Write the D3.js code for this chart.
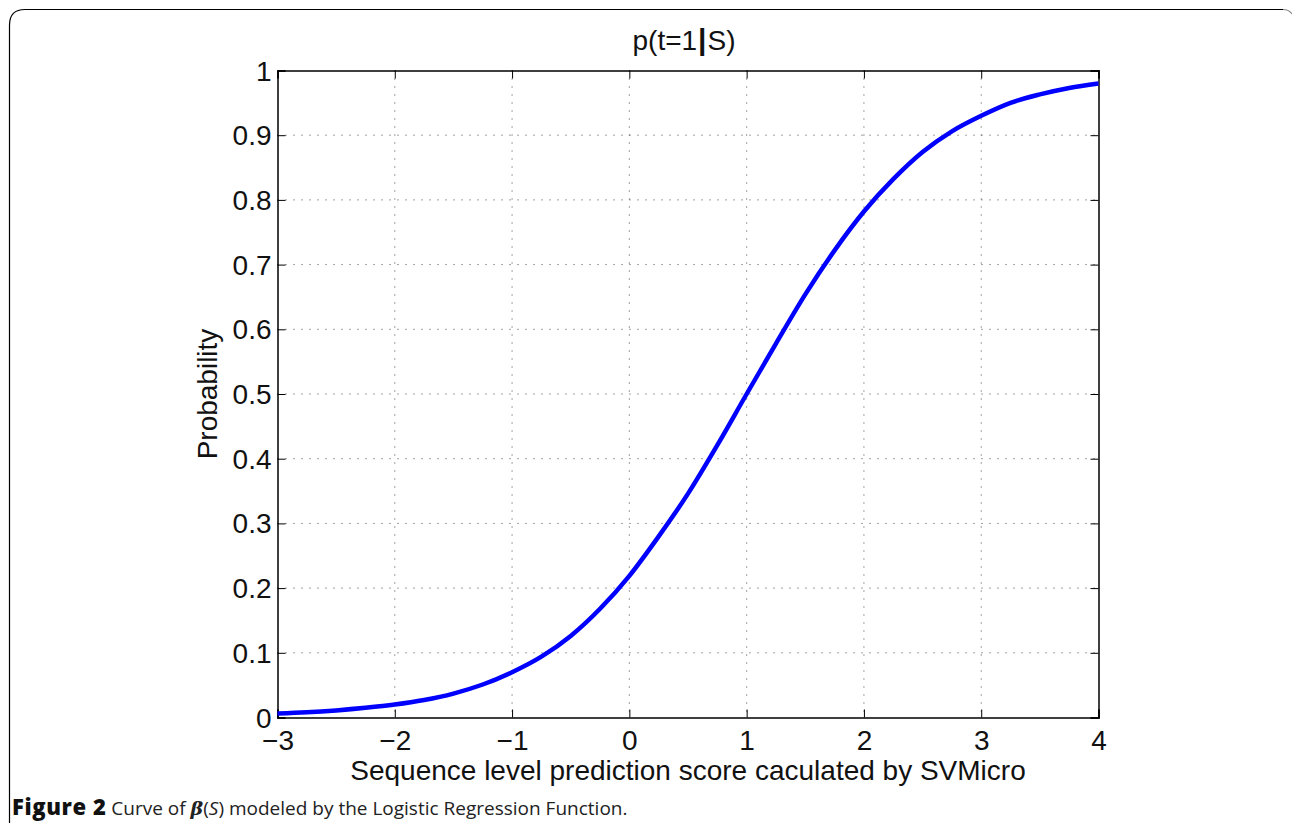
<!DOCTYPE html>
<html><head><meta charset="utf-8">
<script src="https://cdn.jsdelivr.net/npm/d3@7"></script>
<style>
html,body{margin:0;padding:0;background:#fff;}
svg{display:block;}
</style></head>
<body>
<svg id="chart" width="1292" height="824"></svg>
<script>
// Data
const scores = [-3,-2.75,-2.5,-2.25,-2,-1.75,-1.5,-1.25,-1,-0.75,-0.5,-0.25,0,0.25,0.5,0.75,1,1.25,1.5,1.75,2,2.25,2.5,2.75,3,3.25,3.5,3.75,4];
const probs  = [0.006,0.008,0.011,0.015,0.020,0.027,0.037,0.051,0.070,0.094,0.126,0.168,0.219,0.280,0.346,0.421,0.500,0.578,0.654,0.722,0.782,0.832,0.874,0.906,0.930,0.950,0.963,0.973,0.980];
const xTicks = [-3,-2,-1,0,1,2,3,4];
const yTicks = [0,0.1,0.2,0.3,0.4,0.5,0.6,0.7,0.8,0.9,1];
const titleParts = ["p(t=1", "|", "S)"];
const xLabel = "Sequence level prediction score caculated by SVMicro";
const yLabel = "Probability";

const svg = d3.select("#chart");
const L = 277.5, R = 1098.5, T = 70.5, B = 717.5;
const x = d3.scaleLinear().domain([-3,4]).range([L,R]);
const y = d3.scaleLinear().domain([0,1]).range([B,T]);
const font = "'Liberation Sans', Arial, Helvetica, sans-serif";
const fs = 28;

// outer frame (rounded top-left corner, open at bottom)
svg.append("path")
  .attr("d", `M9.5,823 L9.5,25 Q9.5,9.5 25,9.5 L1283,9.5`)
  .attr("fill","none").attr("stroke","#000").attr("stroke-width",1.2);
svg.append("path")
  .attr("d", `M1283,9.5 Q1289,9.5 1292,14`)
  .attr("fill","none").attr("stroke","#888").attr("stroke-width",1.2);

const g = svg.append("g");
g.append("rect").attr("x",L).attr("y",T).attr("width",R-L).attr("height",B-T).attr("fill","#fff");

// grid
g.selectAll(".gx").data(xTicks.slice(1,-1)).enter().append("line")
  .attr("x1",d=>x(d)).attr("x2",d=>x(d)).attr("y1",T).attr("y2",B)
  .attr("stroke","#444").attr("stroke-width",1).attr("stroke-dasharray","1,7");
g.selectAll(".gy").data(yTicks.slice(1,-1)).enter().append("line")
  .attr("y1",d=>y(d)).attr("y2",d=>y(d)).attr("x1",L).attr("x2",R)
  .attr("stroke","#444").attr("stroke-width",1).attr("stroke-dasharray","1,7");

// axes with inward ticks
const tl = 8;
const fmtX = d => d < 0 ? "\u2212" + Math.abs(d) : String(d);
const xAxis = d3.axisBottom(x).tickValues(xTicks).tickSize(-tl).tickFormat(fmtX);
const xAxisTop = d3.axisTop(x).tickValues(xTicks).tickSize(-tl).tickFormat("");
const yAxis = d3.axisLeft(y).tickValues(yTicks).tickSize(-tl).tickFormat(d=>String(+d.toFixed(1)));
const yAxisRight = d3.axisRight(y).tickValues(yTicks).tickSize(-tl).tickFormat("");

function style(sel){
  sel.select(".domain").attr("stroke","#000").attr("stroke-width",1.5);
  sel.selectAll(".tick line").attr("stroke","#000").attr("stroke-width",1);
  sel.selectAll("text").attr("font-family",font).attr("font-size",fs).attr("fill","#111");
}
g.append("g").attr("transform",`translate(0,${B})`).call(xAxis).call(style)
  .selectAll("text").attr("dy",null).attr("y",32);
g.append("g").attr("transform",`translate(0,${T})`).call(xAxisTop).call(style);
g.append("g").attr("transform",`translate(${L},0)`).call(yAxis).call(style)
  .selectAll("text").attr("x",-6).attr("dy","0.34em");
g.append("g").attr("transform",`translate(${R},0)`).call(yAxisRight).call(style);

// curve
const line = d3.line().x((d,i)=>x(scores[i])).y(d=>y(d)).curve(d3.curveMonotoneX);
g.append("path").datum(probs).attr("d",line)
  .attr("fill","none").attr("stroke","#0000ff").attr("stroke-width",4.5).attr("stroke-linejoin","round");

// title and labels
const title = svg.append("text").attr("x",684).attr("y",50).attr("text-anchor","middle")
  .attr("font-family",font).attr("font-size",fs).attr("fill","#111");
title.append("tspan").text(titleParts[0]);
title.append("tspan").attr("font-weight","bold").attr("font-size",fs+2).attr("dx",1).text(titleParts[1]);
title.append("tspan").attr("dx",1).text(titleParts[2]);
svg.append("text").attr("x",688).attr("y",780).attr("text-anchor","middle")
  .attr("font-family",font).attr("font-size",fs).attr("fill","#111").text(xLabel);
svg.append("text").attr("transform","translate(217,394) rotate(-90)").attr("text-anchor","middle")
  .attr("font-family",font).attr("font-size",fs).attr("fill","#111").text(yLabel);

// caption
const cap = svg.append("text").attr("x",12).attr("y",815)
  .attr("font-family","'Open Sans', 'Noto Sans', sans-serif").attr("font-size",19).attr("fill","#222");
cap.append("tspan").attr("font-weight","800").attr("font-size",22).attr("letter-spacing",0.6).attr("fill","#111").text("Figure 2");
cap.append("tspan").text(" Curve of ");
cap.append("tspan").attr("font-family","'DejaVu Serif', serif").attr("font-style","italic").attr("font-weight","bold").text("\u03B2");
cap.append("tspan").text("(");
cap.append("tspan").attr("font-style","italic").text("S");
cap.append("tspan").text(") modeled by the Logistic Regression Function.");
</script>
</body></html>
